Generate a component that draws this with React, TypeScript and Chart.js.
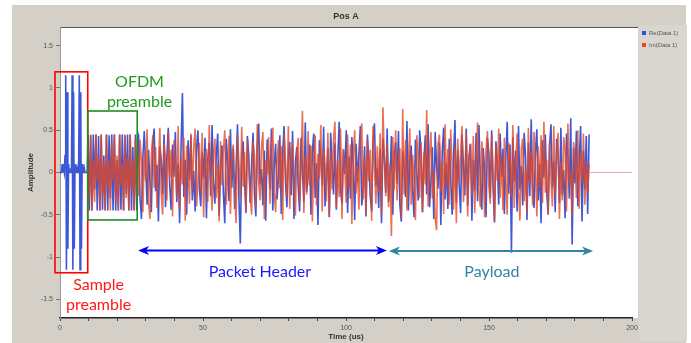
import React, { useEffect, useRef } from "react";
import { Chart, registerables } from "chart.js";
Chart.register(...registerables);

// ---- data (time in us, amplitude) ----
const titleText = "Pos A";
const legendLabels = ["Re(Data 1)", "Im(Data 1)"];
const xTickLabels = [0, 50, 100, 150, 200];
const yTickLabels = [-1.5, -1, -0.5, 0, 0.5, 1, 1.5];

const preambleStart = 0;
const preambleEnd = 9.5;
const preambleBlue = [
  0, 0, 0, 0.1, 0, 0.05, 0, 0.2, 1.15, -1.15, 0.95, -0.9, 0.1, 0, 0, 0.05, 0, 1.15, -1.15, 0.95,
  -0.9, 0.1, 0, 0, 0.05, 0, 0, 1.15, -1.15, 0.95, -0.9, 0.1, 0, 0, 0.05, 0, 0, 0, 0,
];

const ofdmStart = 9.8;
const ofdmEnd = 27.3;
const ofdmBlue = [0.45, -0.45, 0.44, -0.45, 0.45, -0.2, 0.45, -0.45, 0.43, -0.45, 0.45, -0.44, 0.2, -0.45, 0.45, -0.45, 0.44, -0.3, 0.45, -0.45, 0.45, -0.45, 0.15, -0.45, 0.45, -0.44, 0.45, -0.45, 0.44, -0.25, 0.45, -0.45, 0.45, -0.45, 0.3, -0.45, 0.45, -0.45, 0.45];
const ofdmRed = [0.1, -0.3, 0.45, -0.45, 0.15, -0.35, 0.45, -0.1, 0.2, -0.45, 0.45, -0.3, 0.12, -0.45, 0.45, -0.2, 0.15, -0.45, 0.35, -0.1, 0.45, -0.35, 0.2, -0.45, 0.45, -0.15, 0.1, -0.45, 0.45, -0.3, 0.18, -0.45, 0.45, -0.2, 0.15, -0.45, 0.4, -0.3, 0.2];

const payloadStart = 27.5;
const payloadEnd = 185.0;
const payloadBlue = [
  0.42, -0.31, -0.55, 0.18, 0.49, 0.06, -0.38, 0.27, -0.12, -0.47, 0.36, 0.52, -0.22, 0.09, -0.58, 0.31, 0.14, -0.26, 0.45, -0.41,
  0.2, 0.53, -0.16, -0.44, 0.33, -0.05, 0.48, -0.35, 0.11, -0.6, 0.27, 0.94, -0.29, 0.15, -0.5, 0.38, -0.09, 0.44, -0.33, 0.02,
  -0.46, 0.29, 0.5, -0.19, -0.4, 0.24, -0.07, 0.41, -0.54, 0.17, 0.35, -0.28, 0.56, -0.13, -0.37, 0.22, 0.46, -0.51, 0.08, 0.32,
  -0.24, -0.6, 0.4, 0.13, -0.34, 0.51, -0.18, 0.28, -0.43, 0.05, 0.57, -0.3, -0.84, 0.19, 0.37, -0.11, -0.48, 0.43, 0.21, -0.36,
  0.1, 0.47, -0.25, -0.52, 0.3, 0.58, -0.14, 0.04, -0.39, 0.26, -0.57, 0.39, 0.16, -0.2, 0.52, -0.45, 0.07, 0.34, -0.32, -0.06,
  0.44, -0.49, 0.23, 0.55, -0.1, -0.41, 0.18, 0.36, -0.27, 0.49, -0.55, 0.12, 0.3, -0.17, -0.46, 0.41, 0.03, -0.35, 0.59, -0.23,
  -0.04, 0.33, -0.5, 0.25, 0.46, -0.3, 0.11, -0.62, 0.38, 0.2, -0.15, 0.54, -0.4, -0.08, 0.29, -0.53, 0.47, 0.1, -0.26, 0.35,
  -0.44, 0.15, 0.6, -0.21, -0.37, 0.27, -0.02, 0.5, -0.48, 0.19, -0.31, 0.42, 0.07, -0.56, 0.34, -0.12, 0.23, 0.55, -0.39, -0.18,
  0.31, -0.52, 0.45, 0.12, -0.28, -0.46, 0.37, 0.58, -0.16, 0.05, -0.42, 0.28, -0.6, 0.4, 0.17, -0.24, 0.52, -0.35, -0.09, 0.43,
  -0.5, 0.21, 0.36, -0.13, 0.49, -0.38, -0.58, 0.26, 0.08, -0.29, 0.61, -0.45, 0.14, 0.32, -0.2, -0.53, 0.39, 0.01, -0.33, 0.5,
  0.22, -0.47, 0.13, 0.44, -0.26, 0.57, -0.41, -0.1, 0.3, -0.55, 0.48, 0.06, -0.19, 0.35, -0.62, 0.25, 0.53, -0.32, 0.11, -0.43,
  0.4, -0.07, -0.5, 0.18, 0.62, -0.36, 0.27, -0.14, -0.48, 0.45, 0.09, -0.27, 0.52, -0.4, 0.2, 0.34, -0.57, 0.15, -0.22, 0.47,
  -0.34, 0.56, -0.12, -0.44, 0.29, 0.04, -0.53, 0.41, 0.23, -0.3, 0.5, -0.17, -0.59, 0.37, 0.12, -0.38, 0.46, -0.05, 0.28, -0.49,
  0.16, 0.6, -0.25, 0.33, -0.95, 0.42, -0.11, 0.26, -0.46, 0.55, -0.2, 0.08, -0.39, 0.47, 0.19, -0.56, 0.35, -0.28, 0.63, -0.15,
  -0.42, 0.24, 0.51, -0.33, 0.1, -0.6, 0.38, -0.06, 0.45, -0.24, -0.5, 0.31, 0.57, -0.18, 0.14, -0.47, 0.4, 0.22, -0.36, 0.53,
  -0.27, 0.03, -0.54, 0.46, 0.18, -0.31, 0.64, -0.85, 0.29, -0.13, 0.49, -0.4, 0.12, 0.55, -0.58, 0.26, -0.2, 0.43, -0.49, 0.45,
];
const payloadRed = [
  -0.28, 0.39, 0.12, -0.47, 0.25, -0.1, 0.51, -0.36, -0.55, 0.2, 0.44, -0.18, 0.3, -0.42, 0.07, 0.53, -0.25, -0.5, 0.34, 0.16,
  -0.33, 0.48, -0.06, 0.27, -0.52, 0.38, 0.09, -0.29, 0.55, -0.44, 0.18, -0.14, 0.41, -0.57, 0.32, 0.05, -0.37, 0.46, -0.21, 0.29,
  0.52, -0.4, -0.11, 0.35, -0.26, 0.47, -0.53, 0.14, 0.28, -0.35, 0.56, -0.08, -0.45, 0.22, 0.4, -0.3, 0.1, -0.58, 0.37, -0.15,
  0.26, 0.5, -0.38, -0.04, 0.43, -0.49, 0.19, 0.33, -0.22, -0.6, 0.45, 0.12, -0.31, 0.54, -0.17, 0.24, -0.46, 0.39, 0.06, -0.27,
  -0.5, 0.36, 0.21, -0.41, 0.57, -0.13, -0.33, 0.3, 0.48, -0.55, 0.15, -0.02, 0.42, -0.37, 0.27, 0.53, -0.24, -0.47, 0.1, 0.38,
  -0.19, 0.31, -0.56, 0.46, 0.08, -0.3, 0.55, -0.43, 0.17, 0.36, -0.12, -0.51, 0.24, 0.41, -0.35, 0.05, 0.73, -0.48, 0.2, -0.26,
  0.49, -0.15, 0.32, -0.58, 0.13, 0.44, -0.39, 0.22, -0.07, 0.56, -0.46, 0.3, 0.1, -0.34, 0.47, -0.52, 0.25, -0.2, 0.39, 0.6,
  -0.42, 0.14, -0.29, 0.52, -0.55, 0.28, 0.04, -0.36, 0.45, -0.18, 0.33, -0.61, 0.2, 0.5, -0.25, 0.09, -0.44, 0.37, 0.58, -0.32,
  0.18, -0.49, 0.4, -0.1, 0.27, -0.57, 0.55, 0.06, -0.37, 0.31, -0.23, 0.46, -0.5, 0.77, 0.15, -0.28, 0.35, -0.41, 0.11, -0.75,
  0.42, -0.2, 0.5, -0.33, 0.13, 0.29, -0.54, 0.75, -0.26, 0.38, -0.45, 0.07, 0.52, -0.38, 0.21, -0.09, -0.56, 0.44, 0.17, -0.3,
  0.36, -0.47, 0.24, -0.14, 0.74, -0.4, 0.19, 0.48, -0.31, 0.02, -0.55, -0.68, 0.33, 0.45, -0.22, 0.12, -0.49, 0.57, -0.17, 0.28,
  -0.38, 0.51, 0.08, -0.44, 0.3, -0.6, 0.4, -0.12, 0.22, 0.55, -0.35, -0.05, 0.47, -0.52, 0.16, 0.34, -0.27, 0.43, -0.48, 0.1,
  0.59, -0.23, -0.41, 0.37, 0.14, -0.53, 0.26, 0.49, -0.16, -0.37, 0.44, 0.03, -0.58, 0.32, -0.1, 0.52, -0.3, 0.2, -0.45, 0.41,
  -0.06, -0.5, 0.35, 0.18, -0.29, 0.56, -0.42, 0.11, 0.46, -0.2, -0.57, 0.29, 0.4, -0.34, 0.07, -0.47, 0.53, -0.13, 0.25, -0.39,
  0.48, 0.1, -0.52, 0.31, -0.18, 0.44, -0.36, 0.6, -0.24, 0.15, -0.49, 0.38, -0.08, -0.4, 0.55, -0.28, 0.21, 0.47, -0.55, 0.12,
  -0.33, 0.42, 0.27, -0.46, 0.58, -0.15, 0.03, -0.52, 0.36, 0.19, -0.3, 0.5, -0.43, 0.24, -0.11, 0.46, -0.38, 0.14, -0.25, 0.1,
];

const tailTimes = [185.4, 200];
const tailValues = [0, 0];

// annotation anchors in data units
const sampleBox = { t0: -1.75, t1: 9.7, a0: 1.19, a1: -1.185 };
const ofdmBox = { t0: 9.7, t1: 27.0, a0: 0.727, a1: -0.561 };
const headerArrow = { t0: 27.3, t1: 114.3, a: -0.922 };
const payloadArrow = { t0: 115.0, t1: 186.4, a: -0.928 };
const labels = [
  { text: "OFDM", t: 27.8, a: 1.07, color: "#1f9a1f" },
  { text: "preamble", t: 27.8, a: 0.833, color: "#1f9a1f" },
  { text: "Sample", t: 13.5, a: -1.33, color: "#ff1a1a" },
  { text: "preamble", t: 13.5, a: -1.566, color: "#ff1a1a" },
  { text: "Packet Header", t: 69.9, a: -1.176, color: "#1a1aff" },
  { text: "Payload", t: 151, a: -1.176, color: "#31859c" },
];

function segment(start: number, end: number, values: number[]) {
  const step = (end - start) / (values.length - 1);
  return values.map((v, i) => ({ x: start + i * step, y: v }));
}

function drawDoubleArrow(ctx: CanvasRenderingContext2D, x1: number, x2: number, y: number, color: string) {
  const L = 11, H = 4.5, N = 3;
  ctx.save();
  ctx.strokeStyle = color;
  ctx.fillStyle = color;
  ctx.lineWidth = 2;
  ctx.beginPath();
  ctx.moveTo(x1 + 6, y);
  ctx.lineTo(x2 - 6, y);
  ctx.stroke();
  ctx.beginPath();
  ctx.moveTo(x1, y);
  ctx.lineTo(x1 + L, y - H);
  ctx.lineTo(x1 + L - N, y);
  ctx.lineTo(x1 + L, y + H);
  ctx.closePath();
  ctx.fill();
  ctx.beginPath();
  ctx.moveTo(x2, y);
  ctx.lineTo(x2 - L, y - H);
  ctx.lineTo(x2 - L + N, y);
  ctx.lineTo(x2 - L, y + H);
  ctx.closePath();
  ctx.fill();
  ctx.restore();
}

const framePlugin = {
  id: "frame",
  beforeDraw(chart: any) {
    const { ctx, chartArea: ca, width, height } = chart;
    ctx.save();
    ctx.fillStyle = "#ffffff";
    ctx.fillRect(0, 0, width, height);
    ctx.fillStyle = "#d4d0c8";
    ctx.fillRect(12, 5, 674, height - 5);
    ctx.fillStyle = "#d9d6cf";
    ctx.fillRect(ca.right + 7, ca.top - 2, 48, height - ca.top);
    ctx.fillStyle = "#ffffff";
    ctx.fillRect(ca.left, ca.top, ca.right - ca.left + 6, ca.bottom - ca.top);
    ctx.strokeStyle = "#555";
    ctx.lineWidth = 1;
    ctx.beginPath();
    ctx.moveTo(ca.left, ca.top + 0.5);
    ctx.lineTo(ca.right + 6, ca.top + 0.5);
    ctx.stroke();
    ctx.fillStyle = "#333";
    ctx.font = "bold 9px 'Liberation Sans', Arial, sans-serif";
    ctx.textAlign = "center";
    ctx.textBaseline = "middle";
    ctx.fillText(titleText, (ca.left + ca.right) / 2, 17);
    ctx.font = "bold 8px 'Liberation Sans', Arial, sans-serif";
    ctx.fillText("Time (us)", (ca.left + ca.right) / 2, 337);
    ctx.save();
    ctx.translate(31, (ca.top + ca.bottom) / 2);
    ctx.rotate(-Math.PI / 2);
    ctx.fillText("Amplitude", 0, 0);
    ctx.restore();
    const colors = ["#2f4fd8", "#e8492a"];
    ctx.font = "6px 'Liberation Sans', Arial, sans-serif";
    ctx.textAlign = "left";
    legendLabels.forEach((lab, i) => {
      const y = 33 + i * 12;
      ctx.fillStyle = colors[i];
      ctx.fillRect(642, y - 2, 4, 4);
      ctx.fillStyle = "#555";
      ctx.fillText(lab, 649, y);
    });
    ctx.restore();
  },
  afterDraw(chart: any) {
    const { ctx } = chart;
    const xs = chart.scales.x, ys = chart.scales.y;
    const px = (t: number) => xs.getPixelForValue(t);
    const py = (a: number) => ys.getPixelForValue(a);
    ctx.save();
    ctx.lineWidth = 1.6;
    ctx.strokeStyle = "#ff0000";
    ctx.strokeRect(px(sampleBox.t0), py(sampleBox.a0), px(sampleBox.t1) - px(sampleBox.t0), py(sampleBox.a1) - py(sampleBox.a0));
    ctx.strokeStyle = "#1e8c1e";
    ctx.strokeRect(px(ofdmBox.t0), py(ofdmBox.a0), px(ofdmBox.t1) - px(ofdmBox.t0), py(ofdmBox.a1) - py(ofdmBox.a0));
    drawDoubleArrow(ctx, px(headerArrow.t0), px(headerArrow.t1), py(headerArrow.a), "#0000ff");
    drawDoubleArrow(ctx, px(payloadArrow.t0), px(payloadArrow.t1), py(payloadArrow.a), "#31859c");
    ctx.font = "16px Lato, 'Noto Sans', sans-serif";
    ctx.textAlign = "center";
    ctx.textBaseline = "middle";
    labels.forEach((l) => {
      ctx.fillStyle = l.color;
      ctx.fillText(l.text, px(l.t), py(l.a));
    });
    ctx.restore();
  },
};

export default function App() {
  const ref = useRef<HTMLCanvasElement | null>(null);
  useEffect(() => {
    document.body.style.margin = "0";
    const blueData = [
      ...segment(preambleStart, preambleEnd, preambleBlue),
      ...segment(ofdmStart, ofdmEnd, ofdmBlue),
      ...segment(payloadStart, payloadEnd, payloadBlue),
    ];
    const redData = [
      ...segment(ofdmStart, ofdmEnd, ofdmRed),
      ...segment(payloadStart, payloadEnd, payloadRed),
    ];
    const tailData = tailTimes.map((t, i) => ({ x: t, y: tailValues[i] }));
    const tickFont = { size: 7, family: "'Liberation Sans', Arial, sans-serif" };
    const chart = new Chart(ref.current!, {
      type: "line",
      data: {
        datasets: [
          { label: legendLabels[0], data: blueData, borderColor: "rgba(40,70,210,0.9)", borderWidth: 1.6, pointRadius: 0, order: 1 },
          { label: legendLabels[1], data: redData, borderColor: "rgba(230,72,35,0.78)", borderWidth: 1.6, pointRadius: 0, order: 0 },
          { label: "tail", data: tailData, borderColor: "rgba(215,170,170,0.9)", borderWidth: 1, pointRadius: 0, order: 2 },
        ],
      },
      options: {
        responsive: false,
        animation: false,
        devicePixelRatio: 1,
        parsing: false,
        layout: { padding: { left: 12, right: 59, top: 27, bottom: 0 } },
        plugins: { legend: { display: false }, title: { display: false }, tooltip: { enabled: false } },
        scales: {
          x: {
            type: "linear",
            min: 0,
            max: 200,
            afterFit: (s: any) => { s.height = 25; },
            ticks: {
              stepSize: 10,
              includeBounds: false,
              autoSkip: false,
              maxRotation: 0,
              font: tickFont,
              color: "#555",
              padding: 3,
              callback: (v: any) => (xTickLabels.includes(Number(v)) ? String(v) : ""),
            },
            grid: { drawOnChartArea: false, drawTicks: true, tickLength: 3, color: "#444" },
            border: { color: "#222", width: 1.5 },
          },
          y: {
            type: "linear",
            min: -1.72,
            max: 1.72,
            afterFit: (s: any) => { s.width = 48; },
            afterBuildTicks: (s: any) => { s.ticks = yTickLabels.map((v) => ({ value: v })); },
            ticks: { font: tickFont, color: "#555", padding: 3, callback: (v: any) => String(v) },
            grid: { drawOnChartArea: false, drawTicks: true, tickLength: 4, color: "#777" },
            border: { color: "#999", width: 1 },
          },
        },
      },
      plugins: [framePlugin],
    } as any);
    return () => chart.destroy();
  }, []);
  return (
    <div style={{ width: 691, height: 343 }}>
      <canvas ref={ref} width={691} height={343} style={{ display: "block" }} />
    </div>
  );
}
